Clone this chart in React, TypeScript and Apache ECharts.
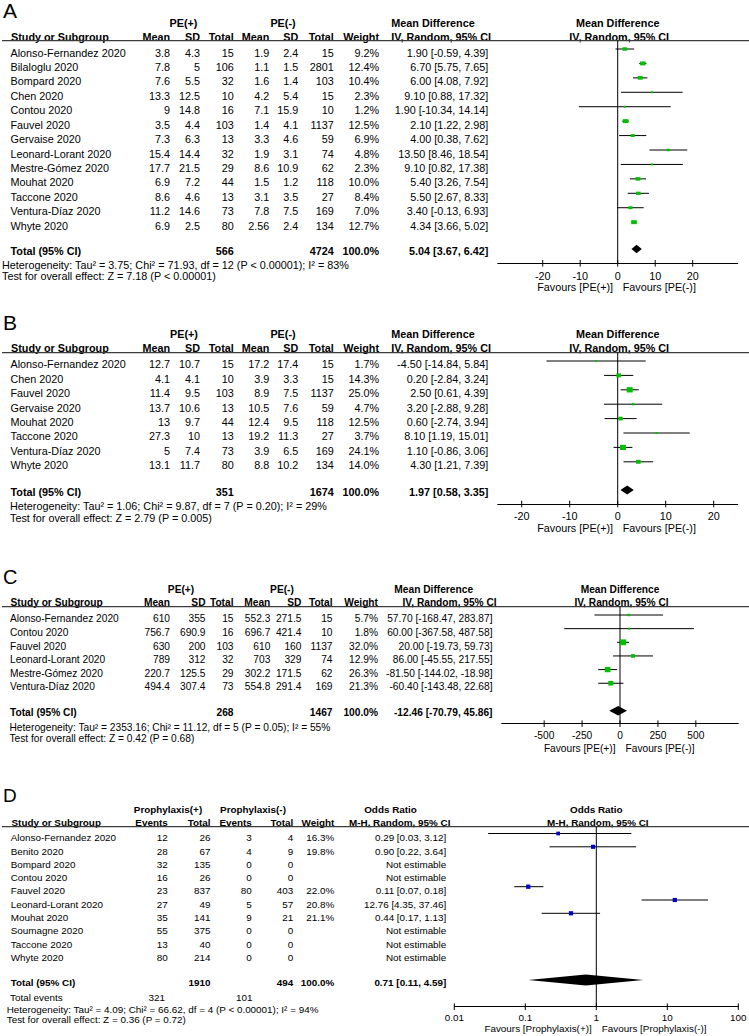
import React, { useEffect, useRef } from "react";
import * as echarts from "echarts";

// ================= Panel A data =================
const studiesA = ["Alonso-Fernandez 2020", "Bilaloglu 2020", "Bompard 2020", "Chen 2020", "Contou 2020", "Fauvel 2020", "Gervaise 2020", "Leonard-Lorant 2020", "Mestre-Gómez 2020", "Mouhat 2020", "Taccone 2020", "Ventura-Díaz 2020", "Whyte 2020"];
const posMeanA = [3.8, 7.8, 7.6, 13.3, 9, 3.5, 7.3, 15.4, 17.7, 6.9, 8.6, 11.2, 6.9];
const posSdA = [4.3, 5, 5.5, 12.5, 14.8, 4.4, 6.3, 14.4, 21.5, 7.2, 4.6, 14.6, 2.5];
const posTotalA = [15, 106, 32, 10, 16, 103, 13, 32, 29, 44, 13, 73, 80];
const negMeanA = [1.9, 1.1, 1.6, 4.2, 7.1, 1.4, 3.3, 1.9, 8.6, 1.5, 3.1, 7.8, 2.56];
const negSdA = [2.4, 1.5, 1.4, 5.4, 15.9, 4.1, 4.6, 3.1, 10.9, 1.2, 3.5, 7.5, 2.4];
const negTotalA = [15, 2801, 103, 15, 10, 1137, 59, 74, 62, 118, 27, 169, 134];
const weightA = [9.2, 12.4, 10.4, 2.3, 1.2, 12.5, 6.9, 4.8, 2.3, 10.0, 8.4, 7.0, 12.7];
const mdA = [1.9, 6.7, 6.0, 9.1, 1.9, 2.1, 4.0, 13.5, 9.1, 5.4, 5.5, 3.4, 4.34];
const loA = [-0.59, 5.75, 4.08, 0.88, -10.34, 1.22, 0.38, 8.46, 0.82, 3.26, 2.67, -0.13, 3.66];
const hiA = [4.39, 7.65, 7.92, 17.32, 14.14, 2.98, 7.62, 18.54, 17.38, 7.54, 8.33, 6.93, 5.02];
const totalsA = ["566", "4724"];
const pooledA = [5.04, 3.67, 6.42];
const hetA = "Heterogeneity: Tau² = 3.75; Chi² = 71.93, df = 12 (P < 0.00001); I² = 83%";
const testA = "Test for overall effect: Z = 7.18 (P < 0.00001)";
const ticksA = [-20, -10, 0, 10, 20];
const rangeA = [-32, 32];

// ================= Panel B data =================
const studiesB = ["Alonso-Fernandez 2020", "Chen 2020", "Fauvel 2020", "Gervaise 2020", "Mouhat 2020", "Taccone 2020", "Ventura-Díaz 2020", "Whyte 2020"];
const posMeanB = [12.7, 4.1, 11.4, 13.7, 13, 27.3, 5, 13.1];
const posSdB = [10.7, 4.1, 9.5, 10.6, 9.7, 10, 7.4, 11.7];
const posTotalB = [15, 10, 103, 13, 44, 13, 73, 80];
const negMeanB = [17.2, 3.9, 8.9, 10.5, 12.4, 19.2, 3.9, 8.8];
const negSdB = [17.4, 3.3, 7.5, 7.6, 9.5, 11.3, 6.5, 10.2];
const negTotalB = [15, 15, 1137, 59, 118, 27, 169, 134];
const weightB = [1.7, 14.3, 25.0, 4.7, 12.5, 3.7, 24.1, 14.0];
const mdB = [-4.5, 0.2, 2.5, 3.2, 0.6, 8.1, 1.1, 4.3];
const loB = [-14.84, -2.84, 0.61, -2.88, -2.74, 1.19, -0.86, 1.21];
const hiB = [5.84, 3.24, 4.39, 9.28, 3.94, 15.01, 3.06, 7.39];
const totalsB = ["351", "1674"];
const pooledB = [1.97, 0.58, 3.35];
const hetB = "Heterogeneity: Tau² = 1.06; Chi² = 9.87, df = 7 (P = 0.20); I² = 29%";
const testB = "Test for overall effect: Z = 2.79 (P = 0.005)";
const ticksB = [-20, -10, 0, 10, 20];
const rangeB = [-25, 25];

// ================= Panel C data =================
const studiesC = ["Alonso-Fernandez 2020", "Contou 2020", "Fauvel 2020", "Leonard-Lorant 2020", "Mestre-Gómez 2020", "Ventura-Díaz 2020"];
const posMeanC = [610, 756.7, 630, 789, 220.7, 494.4];
const posSdC = [355, 690.9, 200, 312, 125.5, 307.4];
const posTotalC = [15, 16, 103, 32, 29, 73];
const negMeanC = [552.3, 696.7, 610, 703, 302.2, 554.8];
const negSdC = [271.5, 421.4, 160, 329, 171.5, 291.4];
const negTotalC = [15, 10, 1137, 74, 62, 169];
const weightC = [5.7, 1.8, 32.0, 12.9, 26.3, 21.3];
const mdC = [57.7, 60.0, 20.0, 86.0, -81.5, -60.4];
const loC = [-168.47, -367.58, -19.73, -45.55, -144.02, -143.48];
const hiC = [283.87, 487.58, 59.73, 217.55, -18.98, 22.68];
const totalsC = ["268", "1467"];
const pooledC = [-12.46, -70.79, 45.86];
const hetC = "Heterogeneity: Tau² = 2353.16; Chi² = 11.12, df = 5 (P = 0.05); I² = 55%";
const testC = "Test for overall effect: Z = 0.42 (P = 0.68)";
const ticksC = [-500, -250, 0, 250, 500];
const rangeC = [-780, 780];

// ================= Panel D data =================
const studiesD = ["Alonso-Fernandez 2020", "Benito 2020", "Bompard 2020", "Contou 2020", "Fauvel 2020", "Leonard-Lorant 2020", "Mouhat 2020", "Soumagne 2020", "Taccone 2020", "Whyte 2020"];
const posEventsD = [12, 28, 32, 16, 23, 27, 35, 55, 13, 80];
const posTotalD = [26, 67, 135, 26, 837, 49, 141, 375, 40, 214];
const negEventsD = [3, 4, 0, 0, 80, 5, 9, 0, 0, 0];
const negTotalD = [4, 9, 0, 0, 403, 57, 21, 0, 0, 0];
const weightD: (number | null)[] = [16.3, 19.8, null, null, 22.0, 20.8, 21.1, null, null, null];
const orD: (number | null)[] = [0.29, 0.9, null, null, 0.11, 12.76, 0.44, null, null, null];
const loD: (number | null)[] = [0.03, 0.22, null, null, 0.07, 4.35, 0.17, null, null, null];
const hiD: (number | null)[] = [3.12, 3.64, null, null, 0.18, 37.46, 1.13, null, null, null];
const totalsD = ["1910", "494"];
const totalEventsD = ["321", "101"];
const pooledD = [0.71, 0.11, 4.59];
const hetD = "Heterogeneity: Tau² = 4.09; Chi² = 66.62, df = 4 (P < 0.00001); I² = 94%";
const testD = "Test for overall effect: Z = 0.36 (P = 0.72)";
const ticksD = [0.01, 0.1, 1, 10, 100];
const rangeD = [0.01, 100];

// ================= styling / layout =================
const FONT = "'Liberation Sans', Arial, Helvetica, sans-serif";
const GREEN = "#00c000";
const BLUE = "#0000cc";

function txt(x: number, y: number, text: string, fs: number, align = "left", bold = false) {
  return {
    type: "text",
    x,
    y,
    silent: true,
    style: { text, fontSize: fs, fontFamily: FONT, fontWeight: bold ? "bold" : "normal", fill: "#000", align, verticalAlign: "middle" },
  };
}
const pct = (w: number | null) => (w == null ? "" : w.toFixed(1) + "%");
const ci2 = (e: number | null, l: number | null, h: number | null) =>
  e == null ? "Not estimable" : `${e.toFixed(2)} [${(l as number).toFixed(2)}, ${(h as number).toFixed(2)}]`;
const fmtNum = (v: number) => String(parseFloat(Number(v).toPrecision(8)));

const layA = { letter: "A", letterX: 3, letterY: 10.5, letterFs: 21, fs: 10.8, hdr1: 23, hdr2: 36.7, lineY: 40.7, m0: 49, step: 14.43, textOff: 3.5, diamondY: 249, totalTextY: 250.7, axisY: 263.3, hetX: 2, hetY: 265, testY: 276, favY: 287.3, labelMargin: 7, gridLeft: 497.7, gridWidth: 240, nameX: 10.5, hdrNameX: 11, sqW: 5.5, sqH: 4, diamondH: 8.5, favGapL: 4.6, favGapR: 5, eventsY: 0 };
const layB = { ...layA, letter: "B", letterY: 322, hdr1: 334.3, hdr2: 348.3, lineY: 352.7, m0: 361, step: 14.4, textOff: 3.3, diamondY: 490, totalTextY: 491.7, axisY: 504, hetX: 10, hetY: 506, testY: 517.5, favY: 528.3, labelMargin: 6.3, sqW: 6, sqH: 5.3, diamondH: 9 };
const layC = { ...layA, letter: "C", letterY: 577, letterFs: 20, fs: 10.2, hdr1: 589, hdr2: 602.3, lineY: 606.7, m0: 615, step: 13.65, textOff: 3.7, diamondY: 710.7, totalTextY: 712.7, axisY: 723.7, hetX: 9.5, hetY: 727, testY: 738, favY: 748, labelMargin: 6.8, gridLeft: 501.7, gridWidth: 236.6, nameX: 10, hdrNameX: 10.5, sqW: 6.2, sqH: 5.8, diamondH: 9.5, favGapL: 4.5, favGapR: 5.5 };
const layD = { ...layA, letter: "D", letterY: 795, letterFs: 19, fs: 9.9, hdr1: 809.5, hdr2: 822.5, lineY: 826.7, m0: 833.5, step: 13.3, textOff: 4.2, diamondY: 980, totalTextY: 982.7, eventsY: 997.7, axisY: 1006.7, hetX: 6.7, hetY: 1009.3, testY: 1019.5, favY: 1028.3, labelMargin: 6, gridLeft: 454.3, gridWidth: 284, nameX: 10.7, hdrNameX: 11.5, sqW: 4.3, sqH: 4.3, diamondH: 11, favGapL: 4.6, favGapR: 5.4 };

function buildPanel(k: number, L: any, P: any, opt: any) {
  const fs = L.fs;
  const ry = (i: number) => L.m0 + L.step * i + L.textOff;
  const isLog = P.axisType === "log";
  const toU = (v: number) => (isLog ? Math.log10(v) : v);
  const u0 = toU(P.range[0]);
  const u1 = toU(P.range[1]);
  const zeroPx = L.gridLeft + (L.gridWidth * (toU(P.zero) - u0)) / (u1 - u0);
  const yMin = (L.lineY - L.m0) / L.step;
  const yMax = (L.axisY - L.m0) / L.step;
  const dRow = (L.diamondY - L.m0) / L.step;
  const g = opt.graphic;

  g.push(txt(L.letterX, L.letterY, L.letter, L.letterFs));
  P.groups.forEach((gr: any) => g.push(txt(gr.x, L.hdr1, gr.text, fs, "center", true)));
  g.push(txt(P.ciHdr1X, L.hdr1, P.ciHdr1, fs, "center", true));
  g.push(txt(zeroPx, L.hdr1, P.ciHdr1, fs, "center", true));
  g.push(txt(L.hdrNameX, L.hdr2, "Study or Subgroup", fs, "left", true));
  P.cols.forEach((c: any) => g.push(txt(c.x, L.hdr2, c.hdr, fs, "right", true)));
  g.push(txt(P.ciHdr2X, L.hdr2, P.ciHdr2, fs, "right", true));
  g.push(txt(zeroPx + 1.5, L.hdr2, P.ciHdr2, fs, "center", true));
  g.push({ type: "line", silent: true, shape: { x1: 2, y1: L.lineY, x2: 749, y2: L.lineY }, style: { stroke: "#3c3c3c", lineWidth: 1.2 } });

  P.studies.forEach((s: string, i: number) => {
    const y = ry(i);
    g.push(txt(L.nameX, y, s, fs));
    P.cols.forEach((c: any) => {
      if (c.vals[i] !== "") g.push(txt(c.x, y, c.vals[i], fs, "right"));
    });
    g.push(txt(P.ciX, y, P.ci[i], fs, "right"));
  });
  g.push(txt(L.nameX, L.totalTextY, "Total (95% CI)", fs, "left", true));
  P.cols.forEach((c: any) => {
    if (c.total) g.push(txt(c.x, L.totalTextY, c.total, fs, "right", true));
  });
  g.push(txt(P.ciX, L.totalTextY, P.pooledTxt, fs, "right", true));
  if (P.events) {
    g.push(txt(L.nameX - 0.7, L.eventsY, "Total events", fs));
    P.events.forEach((e: any) => g.push(txt(e.x, L.eventsY, e.text, fs, "right")));
  }
  g.push(txt(L.hetX, L.hetY, P.het, fs));
  g.push(txt(L.hetX, L.testY, P.test, fs));
  g.push(txt(zeroPx - L.favGapL, L.favY, P.favL, fs, "right"));
  g.push(txt(zeroPx + L.favGapR, L.favY, P.favR, fs, "left"));

  opt.grid.push({ left: L.gridLeft, top: L.lineY, width: L.gridWidth, height: L.axisY - L.lineY, outerBoundsMode: "none" });
  const axisLabel: any = { show: true, margin: L.labelMargin, fontSize: fs, fontFamily: FONT, color: "#000", formatter: (v: number) => fmtNum(v) };
  if (!isLog) axisLabel.customValues = P.ticks;
  opt.xAxis.push({
    gridIndex: k,
    type: isLog ? "log" : "value",
    logBase: 10,
    min: P.range[0],
    max: P.range[1],
    axisLine: { show: true, onZero: false, lineStyle: { color: "#000", width: 1 } },
    axisTick: { show: false },
    splitLine: { show: false },
    axisLabel,
  });
  opt.yAxis.push({ gridIndex: k, type: "value", inverse: true, min: yMin, max: yMax, show: false });

  const marks: number[][] = [];
  P.est.forEach((e: number | null, i: number) => {
    if (e != null) marks.push([e, P.lo[i], P.hi[i], i, P.w[i]]);
  });
  const wmax = Math.max(...marks.map((m) => m[4]));

  // zero line
  opt.series.push({
    type: "custom", xAxisIndex: k, yAxisIndex: k, clip: false, silent: true,
    encode: { x: 0, y: 1 },
    data: [[P.zero, yMin, yMax]],
    renderItem: (_p: any, api: any) => {
      const a = api.coord([api.value(0), api.value(1)]);
      const b = api.coord([api.value(0), api.value(2)]);
      return { type: "line", shape: { x1: a[0], y1: a[1], x2: b[0], y2: b[1] }, style: { stroke: "#000", lineWidth: 1 } };
    },
  });
  // tick marks crossing the axis
  opt.series.push({
    type: "custom", xAxisIndex: k, yAxisIndex: k, clip: false, silent: true,
    encode: { x: 0, y: 1 },
    data: P.ticks.map((v: number) => [v, yMax]),
    renderItem: (_p: any, api: any) => {
      const c = api.coord([api.value(0), api.value(1)]);
      return { type: "line", shape: { x1: c[0], y1: c[1] - 3.3, x2: c[0], y2: c[1] + 3.3 }, style: { stroke: "#000", lineWidth: 1 } };
    },
  });
  // study CIs and squares
  opt.series.push({
    type: "custom", xAxisIndex: k, yAxisIndex: k, clip: false, silent: true,
    encode: { x: 0, y: 3 },
    data: marks,
    renderItem: (_p: any, api: any) => {
      const e = api.value(0), lo = api.value(1), hi = api.value(2), r = api.value(3), w = api.value(4);
      const a = api.coord([lo, r]);
      const b = api.coord([hi, r]);
      const c = api.coord([e, r]);
      const f = Math.sqrt(w / wmax);
      const sw = Math.max(2, L.sqW * f);
      const sh = Math.max(2, L.sqH * f);
      return {
        type: "group",
        children: [
          { type: "line", shape: { x1: a[0], y1: a[1], x2: b[0], y2: b[1] }, style: { stroke: "#000", lineWidth: 1 } },
          { type: "rect", shape: { x: c[0] - sw / 2, y: c[1] - sh / 2, width: sw, height: sh }, style: { fill: P.color } },
        ],
      };
    },
  });
  // pooled diamond
  opt.series.push({
    type: "custom", xAxisIndex: k, yAxisIndex: k, clip: false, silent: true,
    encode: { x: 0, y: 3 },
    data: [[P.pooled[0], P.pooled[1], P.pooled[2], dRow]],
    renderItem: (_p: any, api: any) => {
      const r = api.value(3);
      const c = api.coord([api.value(0), r]);
      const a = api.coord([api.value(1), r]);
      const b = api.coord([api.value(2), r]);
      const h = L.diamondH / 2;
      return {
        type: "polygon",
        shape: { points: [[a[0], c[1]], [c[0], c[1] - h], [b[0], c[1]], [c[0], c[1] + h]] },
        style: { fill: "#000" },
      };
    },
  });
}

function mdSpec(d: any, colX: number[], groupsX: number[], ciX: number, ciHdr1X: number, ciHdr2X: number) {
  const s = (a: number[]) => a.map((v) => String(v));
  return {
    studies: d.studies,
    groups: [{ text: "PE(+)", x: groupsX[0] }, { text: "PE(-)", x: groupsX[1] }],
    cols: [
      { x: colX[0], hdr: "Mean", vals: s(d.m1) },
      { x: colX[1], hdr: "SD", vals: s(d.s1) },
      { x: colX[2], hdr: "Total", vals: s(d.n1), total: d.totals[0] },
      { x: colX[3], hdr: "Mean", vals: s(d.m2) },
      { x: colX[4], hdr: "SD", vals: s(d.s2) },
      { x: colX[5], hdr: "Total", vals: s(d.n2), total: d.totals[1] },
      { x: colX[6], hdr: "Weight", vals: d.w.map(pct), total: "100.0%" },
    ],
    ci: d.md.map((e: number, i: number) => ci2(e, d.lo[i], d.hi[i])),
    ciX, ciHdr1X, ciHdr2X,
    ciHdr1: "Mean Difference",
    ciHdr2: "IV, Random, 95% CI",
    pooledTxt: ci2(d.pooled[0], d.pooled[1], d.pooled[2]),
    pooled: d.pooled,
    het: d.het, test: d.test,
    favL: "Favours [PE(+)]", favR: "Favours [PE(-)]",
    est: d.md, lo: d.lo, hi: d.hi, w: d.w,
    ticks: d.ticks, range: d.range, axisType: "value", zero: 0,
    color: GREEN,
  };
}

function buildOption() {
  const opt: any = { animation: false, grid: [], xAxis: [], yAxis: [], series: [], graphic: [] };
  const colsAB = [170, 200, 233.8, 269.3, 298.3, 333.8, 379];
  buildPanel(0, layA, mdSpec({ studies: studiesA, m1: posMeanA, s1: posSdA, n1: posTotalA, m2: negMeanA, s2: negSdA, n2: negTotalA, w: weightA, md: mdA, lo: loA, hi: hiA, totals: totalsA, pooled: pooledA, het: hetA, test: testA, ticks: ticksA, range: rangeA }, colsAB, [183.5, 283], 488.3, 433, 491), opt);
  buildPanel(1, layB, mdSpec({ studies: studiesB, m1: posMeanB, s1: posSdB, n1: posTotalB, m2: negMeanB, s2: negSdB, n2: negTotalB, w: weightB, md: mdB, lo: loB, hi: hiB, totals: totalsB, pooled: pooledB, het: hetB, test: testB, ticks: ticksB, range: rangeB }, colsAB, [184, 283], 488.3, 433, 491), opt);
  buildPanel(2, layC, mdSpec({ studies: studiesC, m1: posMeanC, s1: posSdC, n1: posTotalC, m2: negMeanC, s2: negSdC, n2: negTotalC, w: weightC, md: mdC, lo: loC, hi: hiC, totals: totalsC, pooled: pooledC, het: hetC, test: testC, ticks: ticksC, range: rangeC }, [170, 205.5, 233.5, 270.3, 301.4, 332.5, 378], [181, 282], 492.5, 433.7, 496.7), opt);

  const s = (a: number[]) => a.map((v) => String(v));
  buildPanel(3, layD, {
    studies: studiesD,
    groups: [{ text: "Prophylaxis(+)", x: 168 }, { text: "Prophylaxis(-)", x: 253 }],
    cols: [
      { x: 167.7, hdr: "Events", vals: s(posEventsD) },
      { x: 210.5, hdr: "Total", vals: s(posTotalD), total: totalsD[0] },
      { x: 251.8, hdr: "Events", vals: s(negEventsD) },
      { x: 293.3, hdr: "Total", vals: s(negTotalD), total: totalsD[1] },
      { x: 334.3, hdr: "Weight", vals: weightD.map(pct), total: "100.0%" },
    ],
    ci: orD.map((e, i) => ci2(e, loD[i], hiD[i])),
    ciX: 446.3, ciHdr1X: 390.5, ciHdr2X: 450.5,
    ciHdr1: "Odds Ratio",
    ciHdr2: "M-H, Random, 95% CI",
    pooledTxt: ci2(pooledD[0], pooledD[1], pooledD[2]),
    pooled: pooledD,
    events: [{ text: totalEventsD[0], x: 165 }, { text: totalEventsD[1], x: 252.5 }],
    het: hetD, test: testD,
    favL: "Favours [Prophylaxis(+)]", favR: "Favours [Prophylaxis(-)]",
    est: orD, lo: loD, hi: hiD, w: weightD,
    ticks: ticksD, range: rangeD, axisType: "log", zero: 1,
    color: BLUE,
  }, opt);
  return opt;
}

export default function App() {
  const ref = useRef<HTMLDivElement>(null);
  useEffect(() => {
    document.body.style.margin = "0";
    if (!ref.current) return;
    const chart = echarts.init(ref.current, null, { renderer: "svg" });
    chart.setOption(buildOption());
    return () => chart.dispose();
  }, []);
  return <div ref={ref} style={{ width: 749, height: 1036, background: "#fff" }} />;
}
